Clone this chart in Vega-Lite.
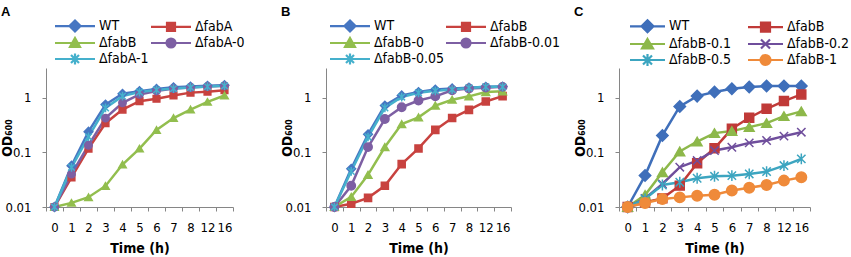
{
  "$schema": "https://vega.github.io/schema/vega-lite/v6.json",
  "padding": {"left": 0, "top": 6, "right": 80, "bottom": 0},
  "background": "white",
  "data": {"values": [
    {"p":"A","s":"WT","t":0,"v":0.01},{"p":"A","s":"WT","t":1,"v":0.057},{"p":"A","s":"WT","t":2,"v":0.239},{"p":"A","s":"WT","t":3,"v":0.75},{"p":"A","s":"WT","t":4,"v":1.18},{"p":"A","s":"WT","t":5,"v":1.32},{"p":"A","s":"WT","t":6,"v":1.45},{"p":"A","s":"WT","t":7,"v":1.55},{"p":"A","s":"WT","t":8,"v":1.6},{"p":"A","s":"WT","t":12,"v":1.65},{"p":"A","s":"WT","t":16,"v":1.7},
    {"p":"A","s":"ΔfabA","t":0,"v":0.01},{"p":"A","s":"ΔfabA","t":1,"v":0.035},{"p":"A","s":"ΔfabA","t":2,"v":0.117},{"p":"A","s":"ΔfabA","t":3,"v":0.342},{"p":"A","s":"ΔfabA","t":4,"v":0.607},{"p":"A","s":"ΔfabA","t":5,"v":0.866},{"p":"A","s":"ΔfabA","t":6,"v":0.958},{"p":"A","s":"ΔfabA","t":7,"v":1.1},{"p":"A","s":"ΔfabA","t":8,"v":1.24},{"p":"A","s":"ΔfabA","t":12,"v":1.29},{"p":"A","s":"ΔfabA","t":16,"v":1.37},
    {"p":"A","s":"ΔfabB","t":0,"v":0.01},{"p":"A","s":"ΔfabB","t":1,"v":0.0119},{"p":"A","s":"ΔfabB","t":2,"v":0.0151},{"p":"A","s":"ΔfabB","t":3,"v":0.0243},{"p":"A","s":"ΔfabB","t":4,"v":0.0598},{"p":"A","s":"ΔfabB","t":5,"v":0.117},{"p":"A","s":"ΔfabB","t":6,"v":0.257},{"p":"A","s":"ΔfabB","t":7,"v":0.424},{"p":"A","s":"ΔfabB","t":8,"v":0.607},{"p":"A","s":"ΔfabB","t":12,"v":0.84},{"p":"A","s":"ΔfabB","t":16,"v":1.1},
    {"p":"A","s":"ΔfabA-0","t":0,"v":0.01},{"p":"A","s":"ΔfabA-0","t":1,"v":0.04},{"p":"A","s":"ΔfabA-0","t":2,"v":0.135},{"p":"A","s":"ΔfabA-0","t":3,"v":0.424},{"p":"A","s":"ΔfabA-0","t":4,"v":0.807},{"p":"A","s":"ΔfabA-0","t":5,"v":1.15},{"p":"A","s":"ΔfabA-0","t":6,"v":1.33},{"p":"A","s":"ΔfabA-0","t":7,"v":1.47},{"p":"A","s":"ΔfabA-0","t":8,"v":1.54},{"p":"A","s":"ΔfabA-0","t":12,"v":1.6},{"p":"A","s":"ΔfabA-0","t":16,"v":1.65},
    {"p":"A","s":"ΔfabA-1","t":0,"v":0.01},{"p":"A","s":"ΔfabA-1","t":1,"v":0.053},{"p":"A","s":"ΔfabA-1","t":2,"v":0.193},{"p":"A","s":"ΔfabA-1","t":3,"v":0.65},{"p":"A","s":"ΔfabA-1","t":4,"v":1.07},{"p":"A","s":"ΔfabA-1","t":5,"v":1.27},{"p":"A","s":"ΔfabA-1","t":6,"v":1.39},{"p":"A","s":"ΔfabA-1","t":7,"v":1.47},{"p":"A","s":"ΔfabA-1","t":8,"v":1.54},{"p":"A","s":"ΔfabA-1","t":12,"v":1.6},{"p":"A","s":"ΔfabA-1","t":16,"v":1.65},

    {"p":"B","s":"WT","t":0,"v":0.01},{"p":"B","s":"WT","t":1,"v":0.05},{"p":"B","s":"WT","t":2,"v":0.214},{"p":"B","s":"WT","t":3,"v":0.72},{"p":"B","s":"WT","t":4,"v":1.1},{"p":"B","s":"WT","t":5,"v":1.27},{"p":"B","s":"WT","t":6,"v":1.41},{"p":"B","s":"WT","t":7,"v":1.48},{"p":"B","s":"WT","t":8,"v":1.53},{"p":"B","s":"WT","t":12,"v":1.58},{"p":"B","s":"WT","t":16,"v":1.6},
    {"p":"B","s":"ΔfabB","t":0,"v":0.01},{"p":"B","s":"ΔfabB","t":1,"v":0.0115},{"p":"B","s":"ΔfabB","t":2,"v":0.0147},{"p":"B","s":"ΔfabB","t":3,"v":0.0245},{"p":"B","s":"ΔfabB","t":4,"v":0.061},{"p":"B","s":"ΔfabB","t":5,"v":0.118},{"p":"B","s":"ΔfabB","t":6,"v":0.258},{"p":"B","s":"ΔfabB","t":7,"v":0.425},{"p":"B","s":"ΔfabB","t":8,"v":0.6},{"p":"B","s":"ΔfabB","t":12,"v":0.855},{"p":"B","s":"ΔfabB","t":16,"v":1.07},
    {"p":"B","s":"ΔfabB-0","t":0,"v":0.01},{"p":"B","s":"ΔfabB-0","t":1,"v":0.0153},{"p":"B","s":"ΔfabB-0","t":2,"v":0.0388},{"p":"B","s":"ΔfabB-0","t":3,"v":0.125},{"p":"B","s":"ΔfabB-0","t":4,"v":0.329},{"p":"B","s":"ΔfabB-0","t":5,"v":0.437},{"p":"B","s":"ΔfabB-0","t":6,"v":0.72},{"p":"B","s":"ΔfabB-0","t":7,"v":0.918},{"p":"B","s":"ΔfabB-0","t":8,"v":1.06},{"p":"B","s":"ΔfabB-0","t":12,"v":1.27},{"p":"B","s":"ΔfabB-0","t":16,"v":1.31},
    {"p":"B","s":"ΔfabB-0.01","t":0,"v":0.01},{"p":"B","s":"ΔfabB-0.01","t":1,"v":0.0245},{"p":"B","s":"ΔfabB-0.01","t":2,"v":0.125},{"p":"B","s":"ΔfabB-0.01","t":3,"v":0.407},{"p":"B","s":"ΔfabB-0.01","t":4,"v":0.67},{"p":"B","s":"ΔfabB-0.01","t":5,"v":0.89},{"p":"B","s":"ΔfabB-0.01","t":6,"v":1.06},{"p":"B","s":"ΔfabB-0.01","t":7,"v":1.37},{"p":"B","s":"ΔfabB-0.01","t":8,"v":1.48},{"p":"B","s":"ΔfabB-0.01","t":12,"v":1.53},{"p":"B","s":"ΔfabB-0.01","t":16,"v":1.58},
    {"p":"B","s":"ΔfabB-0.05","t":0,"v":0.01},{"p":"B","s":"ΔfabB-0.05","t":1,"v":0.045},{"p":"B","s":"ΔfabB-0.05","t":2,"v":0.191},{"p":"B","s":"ΔfabB-0.05","t":3,"v":0.65},{"p":"B","s":"ΔfabB-0.05","t":4,"v":1.03},{"p":"B","s":"ΔfabB-0.05","t":5,"v":1.23},{"p":"B","s":"ΔfabB-0.05","t":6,"v":1.34},{"p":"B","s":"ΔfabB-0.05","t":7,"v":1.41},{"p":"B","s":"ΔfabB-0.05","t":8,"v":1.51},{"p":"B","s":"ΔfabB-0.05","t":12,"v":1.58},{"p":"B","s":"ΔfabB-0.05","t":16,"v":1.58},

    {"p":"C","s":"WT","t":0,"v":0.01},{"p":"C","s":"WT","t":1,"v":0.0376},{"p":"C","s":"WT","t":2,"v":0.204},{"p":"C","s":"WT","t":3,"v":0.693},{"p":"C","s":"WT","t":4,"v":1.07},{"p":"C","s":"WT","t":5,"v":1.27},{"p":"C","s":"WT","t":6,"v":1.46},{"p":"C","s":"WT","t":7,"v":1.57},{"p":"C","s":"WT","t":8,"v":1.64},{"p":"C","s":"WT","t":12,"v":1.64},{"p":"C","s":"WT","t":16,"v":1.64},
    {"p":"C","s":"ΔfabB","t":0,"v":0.01},{"p":"C","s":"ΔfabB","t":1,"v":0.0122},{"p":"C","s":"ΔfabB","t":2,"v":0.0144},{"p":"C","s":"ΔfabB","t":3,"v":0.0246},{"p":"C","s":"ΔfabB","t":4,"v":0.063},{"p":"C","s":"ΔfabB","t":5,"v":0.119},{"p":"C","s":"ΔfabB","t":6,"v":0.27},{"p":"C","s":"ΔfabB","t":7,"v":0.43},{"p":"C","s":"ΔfabB","t":8,"v":0.628},{"p":"C","s":"ΔfabB","t":12,"v":0.868},{"p":"C","s":"ΔfabB","t":16,"v":1.15},
    {"p":"C","s":"ΔfabB-0.1","t":0,"v":0.01},{"p":"C","s":"ΔfabB-0.1","t":1,"v":0.0166},{"p":"C","s":"ΔfabB-0.1","t":2,"v":0.0433},{"p":"C","s":"ΔfabB-0.1","t":3,"v":0.104},{"p":"C","s":"ΔfabB-0.1","t":4,"v":0.158},{"p":"C","s":"ΔfabB-0.1","t":5,"v":0.225},{"p":"C","s":"ΔfabB-0.1","t":6,"v":0.245},{"p":"C","s":"ΔfabB-0.1","t":7,"v":0.29},{"p":"C","s":"ΔfabB-0.1","t":8,"v":0.343},{"p":"C","s":"ΔfabB-0.1","t":12,"v":0.461},{"p":"C","s":"ΔfabB-0.1","t":16,"v":0.562},
    {"p":"C","s":"ΔfabB-0.2","t":0,"v":0.01},{"p":"C","s":"ΔfabB-0.2","t":1,"v":0.0144},{"p":"C","s":"ΔfabB-0.2","t":2,"v":0.0264},{"p":"C","s":"ΔfabB-0.2","t":3,"v":0.0535},{"p":"C","s":"ΔfabB-0.2","t":4,"v":0.0708},{"p":"C","s":"ΔfabB-0.2","t":5,"v":0.108},{"p":"C","s":"ΔfabB-0.2","t":6,"v":0.124},{"p":"C","s":"ΔfabB-0.2","t":7,"v":0.149},{"p":"C","s":"ΔfabB-0.2","t":8,"v":0.165},{"p":"C","s":"ΔfabB-0.2","t":12,"v":0.198},{"p":"C","s":"ΔfabB-0.2","t":16,"v":0.234},
    {"p":"C","s":"ΔfabB-0.5","t":0,"v":0.01},{"p":"C","s":"ΔfabB-0.5","t":1,"v":0.014},{"p":"C","s":"ΔfabB-0.5","t":2,"v":0.0253},{"p":"C","s":"ΔfabB-0.5","t":3,"v":0.0284},{"p":"C","s":"ΔfabB-0.5","t":4,"v":0.0336},{"p":"C","s":"ΔfabB-0.5","t":5,"v":0.0365},{"p":"C","s":"ΔfabB-0.5","t":6,"v":0.0375},{"p":"C","s":"ΔfabB-0.5","t":7,"v":0.0403},{"p":"C","s":"ΔfabB-0.5","t":8,"v":0.0445},{"p":"C","s":"ΔfabB-0.5","t":12,"v":0.0573},{"p":"C","s":"ΔfabB-0.5","t":16,"v":0.076},
    {"p":"C","s":"ΔfabB-1","t":0,"v":0.01},{"p":"C","s":"ΔfabB-1","t":1,"v":0.0118},{"p":"C","s":"ΔfabB-1","t":2,"v":0.014},{"p":"C","s":"ΔfabB-1","t":3,"v":0.015},{"p":"C","s":"ΔfabB-1","t":4,"v":0.0161},{"p":"C","s":"ΔfabB-1","t":5,"v":0.0168},{"p":"C","s":"ΔfabB-1","t":6,"v":0.02},{"p":"C","s":"ΔfabB-1","t":7,"v":0.0226},{"p":"C","s":"ΔfabB-1","t":8,"v":0.0253},{"p":"C","s":"ΔfabB-1","t":12,"v":0.0304},{"p":"C","s":"ΔfabB-1","t":16,"v":0.035}
  ]},
  "bounds": "flush",
  "spacing": 93,
  "resolve": {"scale": {"color": "independent", "x": "independent", "y": "independent"}, "legend": {"color": "independent"}},
  "hconcat": [
    {
      "width": 187, "height": 139,
      "title": {"text": "A"},
      "transform": [{"filter": "datum.p === 'A'"}],
      "encoding": {
        "x": {"field": "t", "type": "ordinal", "bandPosition": 0.5, "scale": {"type": "band", "paddingInner": 0, "paddingOuter": 0}, "axis": {"title": "Time (h)", "tickBand": "extent"}},
        "y": {"field": "v", "type": "quantitative", "scale": {"type": "log", "domain": [0.01, 3.5], "nice": false}, "axis": {"title": "OD₆₀₀", "values": [0.01, 0.1, 1], "format": "~g"}}
      },
      "layer": [
        {"mark": {"type": "line", "strokeWidth": 2.5},
         "encoding": {"color": {"field": "s", "type": "nominal",
           "scale": {"domain": ["WT", "ΔfabA", "ΔfabB", "ΔfabA-0", "ΔfabA-1"], "range": ["#4676C2", "#C8423F", "#92BE4E", "#7D5FA3", "#45B0CC"]},
           "legend": {"title": null, "orient": "none", "direction": "horizontal", "legendX": 7, "legendY": -49, "columns": 2, "columnPadding": -12, "rowPadding": -13, "padding": 0, "symbolSize": 100, "labelOffset": 32, "labelLimit": 300, "labelFont": "DejaVu Sans Condensed, DejaVu Sans", "labelFontSize": 14, "labelColor": "#000",
             "encode": {"symbols": {"update": {
               "shape": {"signal": "['M-1,0H7M3,-1.1L4.1,0L3,1.1L1.9,0Z','M-1,0H7M2.2,-0.8H3.8V0.8H2.2Z','M-1,0H7M3,-1L4,0.8H2Z','M-1,0H7M2.1,0A0.9,0.9 0 1,0 3.9,0A0.9,0.9 0 1,0 2.1,0Z','M-1,0H7M2.2,-0.8L3.8,0.8M2.2,0.8L3.8,-0.8M3,-1.1V1.1'][indexof(['WT','ΔfabA','ΔfabB','ΔfabA-0','ΔfabA-1'], datum.value)]"},
               "stroke": {"signal": "['#4676C2','#C8423F','#92BE4E','#7D5FA3','#45B0CC'][indexof(['WT','ΔfabA','ΔfabB','ΔfabA-0','ΔfabA-1'], datum.value)]"},
               "fill": {"signal": "['#4676C2','#C8423F','#92BE4E','#7D5FA3','#45B0CC'][indexof(['WT','ΔfabA','ΔfabB','ΔfabA-0','ΔfabA-1'], datum.value)]"},
               "strokeWidth": {"value": 2.2}, "size": {"value": 100}, "opacity": {"value": 1}}}}}}}},
        {"mark": {"type": "point", "filled": false, "strokeWidth": 1.5, "opacity": 1},
         "encoding": {
           "color": {"field": "s", "type": "nominal", "scale": {"domain": ["WT", "ΔfabA", "ΔfabB", "ΔfabA-0", "ΔfabA-1"], "range": ["#4676C2", "#C8423F", "#92BE4E", "#7D5FA3", "#45B0CC"]}},
           "fill": {"condition": [{"test": "datum.s === 'WT'", "value": "#4676C2"}, {"test": "datum.s === 'ΔfabA'", "value": "#C8423F"}, {"test": "datum.s === 'ΔfabB'", "value": "#92BE4E"}, {"test": "datum.s === 'ΔfabA-0'", "value": "#7D5FA3"}], "value": "transparent"},
           "shape": {"condition": [{"test": "datum.s === 'WT'", "value": "diamond"}, {"test": "datum.s === 'ΔfabA'", "value": "square"}, {"test": "datum.s === 'ΔfabB'", "value": "triangle-up"}, {"test": "datum.s === 'ΔfabA-0'", "value": "circle"}], "value": "M-1,-1L1,1M-1,1L1,-1M0,-1.3L0,1.3"},
           "size": {"condition": [{"test": "datum.s === 'WT'", "value": 75}, {"test": "datum.s === 'ΔfabA'", "value": 45}, {"test": "datum.s === 'ΔfabB'", "value": 55}, {"test": "datum.s === 'ΔfabA-0'", "value": 55}], "value": 45}
         }}
      ]
    },
    {
      "bounds": "flush",
      "spacing": 108,
      "resolve": {"scale": {"color": "independent", "x": "independent", "y": "independent"}, "legend": {"color": "independent"}},
      "hconcat": [
        {
          "width": 185, "height": 139,
          "title": {"text": "B"},
          "transform": [{"filter": "datum.p === 'B'"}],
          "encoding": {
            "x": {"field": "t", "type": "ordinal", "bandPosition": 0.5, "scale": {"type": "band", "paddingInner": 0, "paddingOuter": 0}, "axis": {"title": "Time (h)", "tickBand": "extent"}},
            "y": {"field": "v", "type": "quantitative", "scale": {"type": "log", "domain": [0.01, 3.5], "nice": false}, "axis": {"title": "OD₆₀₀", "values": [0.01, 0.1, 1], "format": "~g"}}
          },
          "layer": [
            {"mark": {"type": "line", "strokeWidth": 2.5},
             "encoding": {"color": {"field": "s", "type": "nominal",
               "scale": {"domain": ["WT", "ΔfabB", "ΔfabB-0", "ΔfabB-0.01", "ΔfabB-0.05"], "range": ["#4676C2", "#C8423F", "#92BE4E", "#7D5FA3", "#45B0CC"]},
               "legend": {"title": null, "orient": "none", "direction": "horizontal", "legendX": 2, "legendY": -49, "columns": 2, "columnPadding": -15, "rowPadding": -13, "padding": 0, "symbolSize": 100, "labelOffset": 32, "labelLimit": 300, "labelFont": "DejaVu Sans Condensed, DejaVu Sans", "labelFontSize": 14, "labelColor": "#000",
                 "encode": {"symbols": {"update": {
                   "shape": {"signal": "['M-1,0H7M3,-1.1L4.1,0L3,1.1L1.9,0Z','M-1,0H7M2.2,-0.8H3.8V0.8H2.2Z','M-1,0H7M3,-1L4,0.8H2Z','M-1,0H7M2.1,0A0.9,0.9 0 1,0 3.9,0A0.9,0.9 0 1,0 2.1,0Z','M-1,0H7M2.2,-0.8L3.8,0.8M2.2,0.8L3.8,-0.8M3,-1.1V1.1'][indexof(['WT','ΔfabB','ΔfabB-0','ΔfabB-0.01','ΔfabB-0.05'], datum.value)]"},
                   "stroke": {"signal": "['#4676C2','#C8423F','#92BE4E','#7D5FA3','#45B0CC'][indexof(['WT','ΔfabB','ΔfabB-0','ΔfabB-0.01','ΔfabB-0.05'], datum.value)]"},
                   "fill": {"signal": "['#4676C2','#C8423F','#92BE4E','#7D5FA3','#45B0CC'][indexof(['WT','ΔfabB','ΔfabB-0','ΔfabB-0.01','ΔfabB-0.05'], datum.value)]"},
                   "strokeWidth": {"value": 2.2}, "size": {"value": 100}, "opacity": {"value": 1}}}}}}}},
            {"mark": {"type": "point", "filled": false, "strokeWidth": 1.5, "opacity": 1},
             "encoding": {
               "color": {"field": "s", "type": "nominal", "scale": {"domain": ["WT", "ΔfabB", "ΔfabB-0", "ΔfabB-0.01", "ΔfabB-0.05"], "range": ["#4676C2", "#C8423F", "#92BE4E", "#7D5FA3", "#45B0CC"]}},
               "fill": {"condition": [{"test": "datum.s === 'WT'", "value": "#4676C2"}, {"test": "datum.s === 'ΔfabB'", "value": "#C8423F"}, {"test": "datum.s === 'ΔfabB-0'", "value": "#92BE4E"}, {"test": "datum.s === 'ΔfabB-0.01'", "value": "#7D5FA3"}], "value": "transparent"},
               "shape": {"condition": [{"test": "datum.s === 'WT'", "value": "diamond"}, {"test": "datum.s === 'ΔfabB'", "value": "square"}, {"test": "datum.s === 'ΔfabB-0'", "value": "triangle-up"}, {"test": "datum.s === 'ΔfabB-0.01'", "value": "circle"}], "value": "M-1,-1L1,1M-1,1L1,-1M0,-1.3L0,1.3"},
               "size": {"condition": [{"test": "datum.s === 'WT'", "value": 75}, {"test": "datum.s === 'ΔfabB'", "value": 50}, {"test": "datum.s === 'ΔfabB-0'", "value": 60}, {"test": "datum.s === 'ΔfabB-0.01'", "value": 70}], "value": 45}
             }}
          ]
        },
        {
          "width": 191, "height": 139,
          "title": {"text": "C"},
          "transform": [{"filter": "datum.p === 'C'"}],
          "encoding": {
            "x": {"field": "t", "type": "ordinal", "bandPosition": 0.5, "scale": {"type": "band", "paddingInner": 0, "paddingOuter": 0}, "axis": {"title": "Time (h)", "tickBand": "extent"}},
            "y": {"field": "v", "type": "quantitative", "scale": {"type": "log", "domain": [0.01, 3.5], "nice": false}, "axis": {"title": "OD₆₀₀", "values": [0.01, 0.1, 1], "format": "~g"}}
          },
          "layer": [
            {"mark": {"type": "line", "strokeWidth": 2.5},
             "encoding": {"color": {"field": "s", "type": "nominal",
               "scale": {"domain": ["WT", "ΔfabB", "ΔfabB-0.1", "ΔfabB-0.2", "ΔfabB-0.5", "ΔfabB-1"], "range": ["#3F6FBA", "#C03A38", "#8DB84A", "#6F4E9C", "#3CA5C0", "#EF8A3A"]},
               "legend": {"title": null, "orient": "none", "direction": "horizontal", "legendX": 9, "legendY": -49, "columns": 2, "columnPadding": 12, "rowPadding": -13, "padding": 0, "symbolSize": 100, "labelOffset": 27, "labelLimit": 300, "labelFont": "DejaVu Sans Condensed, DejaVu Sans", "labelFontSize": 14, "labelColor": "#000",
                 "encode": {"symbols": {"update": {
                   "shape": {"signal": "['M-1,0H6M2.5,-1.2L3.7,0L2.5,1.2L1.3,0Z','M-1,0H6M1.6,-0.9H3.4V0.9H1.6Z','M-1,0H6M2.5,-1L3.6,0.9H1.4Z','M-1,0H6M1.6,-0.9L3.4,0.9M1.6,0.9L3.4,-0.9','M-1,0H6M1.6,-0.9L3.4,0.9M1.6,0.9L3.4,-0.9M2.5,-1.2V1.2','M-1,0H6M1.5,0A1,1 0 1,0 3.5,0A1,1 0 1,0 1.5,0Z'][indexof(['WT','ΔfabB','ΔfabB-0.1','ΔfabB-0.2','ΔfabB-0.5','ΔfabB-1'], datum.value)]"},
                   "stroke": {"signal": "['#3F6FBA','#C03A38','#8DB84A','#6F4E9C','#3CA5C0','#EF8A3A'][indexof(['WT','ΔfabB','ΔfabB-0.1','ΔfabB-0.2','ΔfabB-0.5','ΔfabB-1'], datum.value)]"},
                   "fill": {"signal": "['#3F6FBA','#C03A38','#8DB84A','#6F4E9C','#3CA5C0','#EF8A3A'][indexof(['WT','ΔfabB','ΔfabB-0.1','ΔfabB-0.2','ΔfabB-0.5','ΔfabB-1'], datum.value)]"},
                   "strokeWidth": {"value": 2.2}, "size": {"value": 100}, "opacity": {"value": 1}}}}}}}},
            {"mark": {"type": "point", "filled": false, "strokeWidth": 1.5, "opacity": 1},
             "encoding": {
               "color": {"field": "s", "type": "nominal", "scale": {"domain": ["WT", "ΔfabB", "ΔfabB-0.1", "ΔfabB-0.2", "ΔfabB-0.5", "ΔfabB-1"], "range": ["#3F6FBA", "#C03A38", "#8DB84A", "#6F4E9C", "#3CA5C0", "#EF8A3A"]}},
               "fill": {"condition": [{"test": "datum.s === 'WT'", "value": "#3F6FBA"}, {"test": "datum.s === 'ΔfabB'", "value": "#C03A38"}, {"test": "datum.s === 'ΔfabB-0.1'", "value": "#8DB84A"}, {"test": "datum.s === 'ΔfabB-1'", "value": "#EF8A3A"}], "value": "transparent"},
               "shape": {"condition": [{"test": "datum.s === 'WT'", "value": "diamond"}, {"test": "datum.s === 'ΔfabB'", "value": "square"}, {"test": "datum.s === 'ΔfabB-0.1'", "value": "triangle-up"}, {"test": "datum.s === 'ΔfabB-0.2'", "value": "M-1,-1L1,1M-1,1L1,-1"}, {"test": "datum.s === 'ΔfabB-1'", "value": "circle"}], "value": "M-1,-1L1,1M-1,1L1,-1M0,-1.3L0,1.3"},
               "size": {"condition": [{"test": "datum.s === 'WT'", "value": 130}, {"test": "datum.s === 'ΔfabB'", "value": 80}, {"test": "datum.s === 'ΔfabB-0.1'", "value": 95}, {"test": "datum.s === 'ΔfabB-1'", "value": 110}], "value": 70}
             }}
          ]
        }
      ]
    }
  ],
  "config": {
    "view": {"stroke": null},
    "title": {"anchor": "start", "frame": "bounds", "font": "Liberation Sans", "fontSize": 13, "fontWeight": "bold", "color": "#000", "offset": 0, "dy": 4, "dx": 0},
    "axis": {"domainColor": "#868686", "tickColor": "#868686", "labelFont": "DejaVu Sans Condensed, DejaVu Sans", "labelFontSize": 13, "labelColor": "#000", "titleFont": "DejaVu Sans Condensed, DejaVu Sans", "titleFontSize": 14, "titleFontWeight": "bold", "titleColor": "#000", "grid": false, "tickSize": 4},
    "axisX": {"labelAngle": 0, "labelPadding": 10, "titlePadding": 7, "labelOverlap": false},
    "axisY": {"labelPadding": 11, "titlePadding": -10}
  }
}
